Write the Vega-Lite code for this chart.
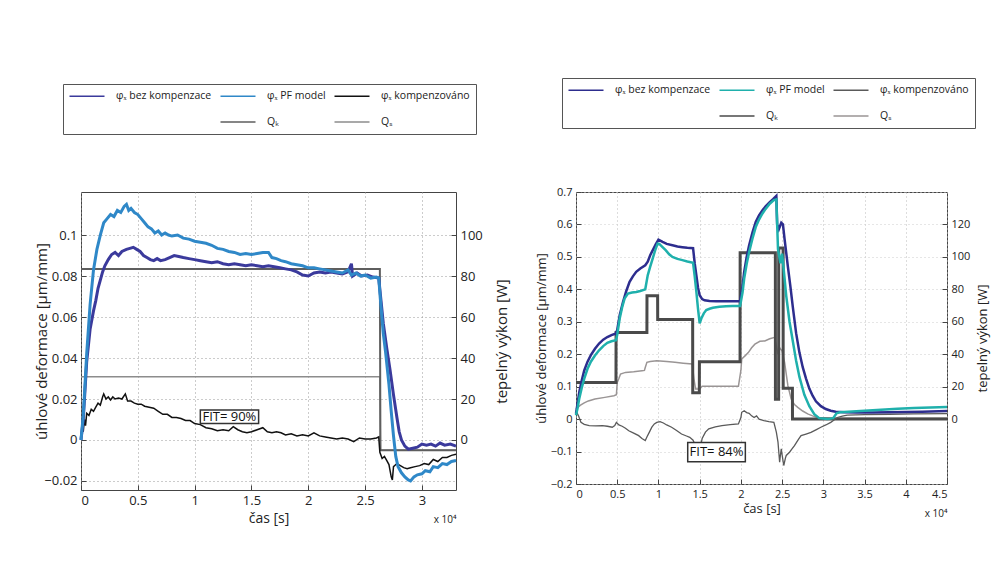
{
"$schema": "https://vega.github.io/schema/vega-lite/v6.json",
"background": "white",
"padding": {"left": 34, "top": 77, "right": 0, "bottom": 0},
"spacing": 24,
"config": {
  "font": "Open Sans",
  "view": {"stroke": "#444", "strokeWidth": 1},
  "axis": {"labelFont": "Open Sans", "labelFontSize": 11, "labelColor": "#222", "titleFont": "Open Sans", "titleFontSize": 12, "titleFontWeight": "normal", "titleColor": "#222", "domain": false, "tickSize": -5, "tickColor": "#444", "labelPadding": 9, "grid": false},
  "legend": {"labelFont": "Open Sans", "labelFontSize": 10.5, "labelColor": "#222"}
},
"datasets": {
  "lP": [{"t":0,"v":0},{"t":0.02,"v":0.012},{"t":0.05,"v":0.042},{"t":0.08,"v":0.066},{"t":0.11,"v":0.083},{"t":0.14,"v":0.093},{"t":0.17,"v":0.1},{"t":0.2,"v":0.106},{"t":0.23,"v":0.108},{"t":0.26,"v":0.11},{"t":0.29,"v":0.109},{"t":0.32,"v":0.112},{"t":0.35,"v":0.111},{"t":0.38,"v":0.114},{"t":0.4,"v":0.115},{"t":0.42,"v":0.112},{"t":0.44,"v":0.113},{"t":0.47,"v":0.111},{"t":0.5,"v":0.11},{"t":0.53,"v":0.108},{"t":0.56,"v":0.106},{"t":0.59,"v":0.104},{"t":0.62,"v":0.103},{"t":0.65,"v":0.101},{"t":0.68,"v":0.102},{"t":0.71,"v":0.1},{"t":0.74,"v":0.101},{"t":0.77,"v":0.1},{"t":0.8,"v":0.0995},{"t":0.85,"v":0.1},{"t":0.9,"v":0.0985},{"t":0.95,"v":0.098},{"t":1.0,"v":0.097},{"t":1.05,"v":0.0965},{"t":1.1,"v":0.096},{"t":1.15,"v":0.095},{"t":1.2,"v":0.0935},{"t":1.25,"v":0.093},{"t":1.3,"v":0.092},{"t":1.35,"v":0.0915},{"t":1.4,"v":0.0905},{"t":1.45,"v":0.091},{"t":1.5,"v":0.0905},{"t":1.55,"v":0.091},{"t":1.6,"v":0.0915},{"t":1.65,"v":0.0915},{"t":1.68,"v":0.089},{"t":1.72,"v":0.0885},{"t":1.76,"v":0.0875},{"t":1.8,"v":0.087},{"t":1.85,"v":0.086},{"t":1.9,"v":0.0855},{"t":1.95,"v":0.085},{"t":2.0,"v":0.084},{"t":2.05,"v":0.084},{"t":2.1,"v":0.0835},{"t":2.15,"v":0.083},{"t":2.2,"v":0.0825},{"t":2.25,"v":0.082},{"t":2.3,"v":0.0815},{"t":2.35,"v":0.083},{"t":2.38,"v":0.0805},{"t":2.42,"v":0.0815},{"t":2.46,"v":0.08},{"t":2.5,"v":0.0805},{"t":2.55,"v":0.079},{"t":2.6,"v":0.0795},{"t":2.62,"v":0.079},{"t":2.64,"v":0.065},{"t":2.66,"v":0.052},{"t":2.68,"v":0.043},{"t":2.71,"v":0.027},{"t":2.73,"v":0.014},{"t":2.75,"v":0.002},{"t":2.77,"v":-0.008},{"t":2.79,"v":-0.013},{"t":2.82,"v":-0.016},{"t":2.85,"v":-0.018},{"t":2.88,"v":-0.0195},{"t":2.9,"v":-0.02},{"t":2.93,"v":-0.018},{"t":2.96,"v":-0.017},{"t":3.0,"v":-0.0165},{"t":3.03,"v":-0.015},{"t":3.07,"v":-0.0155},{"t":3.1,"v":-0.013},{"t":3.14,"v":-0.0135},{"t":3.18,"v":-0.0115},{"t":3.22,"v":-0.012},{"t":3.26,"v":-0.0105},{"t":3.3,"v":-0.01}],
  "lB": [{"t":0,"v":0},{"t":0.02,"v":0.01},{"t":0.05,"v":0.038},{"t":0.08,"v":0.054},{"t":0.11,"v":0.063},{"t":0.13,"v":0.068},{"t":0.15,"v":0.074},{"t":0.17,"v":0.078},{"t":0.19,"v":0.082},{"t":0.21,"v":0.085},{"t":0.24,"v":0.088},{"t":0.27,"v":0.0905},{"t":0.3,"v":0.0915},{"t":0.33,"v":0.09},{"t":0.36,"v":0.092},{"t":0.4,"v":0.093},{"t":0.43,"v":0.0935},{"t":0.46,"v":0.094},{"t":0.49,"v":0.093},{"t":0.52,"v":0.092},{"t":0.55,"v":0.09},{"t":0.58,"v":0.089},{"t":0.61,"v":0.088},{"t":0.64,"v":0.0875},{"t":0.67,"v":0.0885},{"t":0.7,"v":0.0875},{"t":0.74,"v":0.088},{"t":0.78,"v":0.089},{"t":0.82,"v":0.09},{"t":0.86,"v":0.0895},{"t":0.9,"v":0.089},{"t":0.95,"v":0.0885},{"t":1.0,"v":0.088},{"t":1.05,"v":0.0875},{"t":1.1,"v":0.087},{"t":1.15,"v":0.0865},{"t":1.2,"v":0.087},{"t":1.25,"v":0.086},{"t":1.3,"v":0.0855},{"t":1.35,"v":0.086},{"t":1.4,"v":0.0855},{"t":1.45,"v":0.085},{"t":1.5,"v":0.0855},{"t":1.55,"v":0.085},{"t":1.6,"v":0.0845},{"t":1.65,"v":0.085},{"t":1.7,"v":0.0845},{"t":1.75,"v":0.084},{"t":1.8,"v":0.0835},{"t":1.85,"v":0.083},{"t":1.9,"v":0.082},{"t":1.95,"v":0.0805},{"t":2.0,"v":0.08},{"t":2.05,"v":0.0815},{"t":2.1,"v":0.082},{"t":2.15,"v":0.0815},{"t":2.2,"v":0.082},{"t":2.25,"v":0.0815},{"t":2.3,"v":0.081},{"t":2.35,"v":0.082},{"t":2.38,"v":0.086},{"t":2.39,"v":0.08},{"t":2.43,"v":0.0815},{"t":2.47,"v":0.08},{"t":2.52,"v":0.0805},{"t":2.57,"v":0.0795},{"t":2.62,"v":0.079},{"t":2.64,"v":0.068},{"t":2.66,"v":0.057},{"t":2.69,"v":0.045},{"t":2.72,"v":0.034},{"t":2.75,"v":0.022},{"t":2.78,"v":0.011},{"t":2.8,"v":0.004},{"t":2.82,"v":0.0},{"t":2.85,"v":-0.003},{"t":2.88,"v":-0.0045},{"t":2.92,"v":-0.004},{"t":2.96,"v":-0.0035},{"t":3.0,"v":-0.002},{"t":3.04,"v":-0.0025},{"t":3.08,"v":-0.002},{"t":3.12,"v":-0.003},{"t":3.16,"v":-0.0015},{"t":3.2,"v":-0.0025},{"t":3.25,"v":-0.002},{"t":3.3,"v":-0.003}],
  "lK": [{"t":0,"v":0.001},{"t":0.01,"v":0.006},{"t":0.02,"v":0.004},{"t":0.03,"v":0.01},{"t":0.04,"v":0.007},{"t":0.05,"v":0.013},{"t":0.07,"v":0.012},{"t":0.09,"v":0.015},{"t":0.11,"v":0.014},{"t":0.13,"v":0.016},{"t":0.15,"v":0.018},{"t":0.17,"v":0.017},{"t":0.19,"v":0.021},{"t":0.2,"v":0.0225},{"t":0.22,"v":0.02},{"t":0.24,"v":0.021},{"t":0.26,"v":0.0195},{"t":0.28,"v":0.021},{"t":0.3,"v":0.02},{"t":0.33,"v":0.0205},{"t":0.36,"v":0.02},{"t":0.39,"v":0.0225},{"t":0.41,"v":0.019},{"t":0.44,"v":0.019},{"t":0.47,"v":0.018},{"t":0.5,"v":0.0175},{"t":0.53,"v":0.0175},{"t":0.56,"v":0.0165},{"t":0.6,"v":0.016},{"t":0.64,"v":0.0155},{"t":0.68,"v":0.014},{"t":0.72,"v":0.0125},{"t":0.76,"v":0.0125},{"t":0.8,"v":0.011},{"t":0.84,"v":0.011},{"t":0.88,"v":0.0105},{"t":0.92,"v":0.0095},{"t":0.96,"v":0.0095},{"t":1.0,"v":0.008},{"t":1.05,"v":0.0075},{"t":1.1,"v":0.006},{"t":1.15,"v":0.0055},{"t":1.2,"v":0.0045},{"t":1.25,"v":0.005},{"t":1.3,"v":0.0045},{"t":1.34,"v":0.0065},{"t":1.38,"v":0.005},{"t":1.42,"v":0.004},{"t":1.46,"v":0.0035},{"t":1.5,"v":0.004},{"t":1.55,"v":0.005},{"t":1.6,"v":0.006},{"t":1.64,"v":0.004},{"t":1.68,"v":0.0035},{"t":1.72,"v":0.004},{"t":1.76,"v":0.0035},{"t":1.8,"v":0.0025},{"t":1.85,"v":0.003},{"t":1.9,"v":0.002},{"t":1.95,"v":0.0025},{"t":2.0,"v":0.002},{"t":2.05,"v":0.0035},{"t":2.1,"v":0.002},{"t":2.15,"v":0.0015},{"t":2.2,"v":0.001},{"t":2.25,"v":0.0005},{"t":2.3,"v":0.001},{"t":2.35,"v":0.0005},{"t":2.4,"v":-0.0008},{"t":2.45,"v":0.001},{"t":2.5,"v":0.0005},{"t":2.55,"v":0.0005},{"t":2.6,"v":0.001},{"t":2.62,"v":0.0015},{"t":2.63,"v":-0.006},{"t":2.65,"v":-0.009},{"t":2.67,"v":-0.008},{"t":2.69,"v":-0.01},{"t":2.71,"v":-0.012},{"t":2.73,"v":-0.018},{"t":2.74,"v":-0.0195},{"t":2.75,"v":-0.013},{"t":2.78,"v":-0.0115},{"t":2.81,"v":-0.0125},{"t":2.84,"v":-0.0135},{"t":2.87,"v":-0.014},{"t":2.9,"v":-0.0135},{"t":2.94,"v":-0.013},{"t":2.98,"v":-0.0125},{"t":3.02,"v":-0.0115},{"t":3.06,"v":-0.012},{"t":3.1,"v":-0.0095},{"t":3.14,"v":-0.0105},{"t":3.18,"v":-0.0085},{"t":3.22,"v":-0.0085},{"t":3.26,"v":-0.0075},{"t":3.3,"v":-0.007}],
  "lQK": [{"t":0,"q":83.4},{"t":2.63,"q":83.4},{"t":2.635,"q":-5},{"t":3.3,"q":-5}],
  "lQS": [{"t":0,"q":30.9},{"t":2.63,"q":30.9},{"t":2.635,"q":-5},{"t":3.3,"q":-5}],
  "rB": [{"t":0,"v":0.017},{"t":0.02,"v":0.05},{"t":0.04,"v":0.084},{"t":0.07,"v":0.12},{"t":0.1,"v":0.15},{"t":0.14,"v":0.177},{"t":0.18,"v":0.197},{"t":0.23,"v":0.217},{"t":0.28,"v":0.233},{"t":0.33,"v":0.245},{"t":0.38,"v":0.253},{"t":0.43,"v":0.259},{"t":0.485,"v":0.264},{"t":0.5,"v":0.275},{"t":0.53,"v":0.32},{"t":0.57,"v":0.361},{"t":0.61,"v":0.395},{"t":0.65,"v":0.423},{"t":0.69,"v":0.44},{"t":0.73,"v":0.454},{"t":0.78,"v":0.464},{"t":0.84,"v":0.474},{"t":0.87,"v":0.485},{"t":0.9,"v":0.505},{"t":0.93,"v":0.52},{"t":0.97,"v":0.54},{"t":1.0,"v":0.553},{"t":1.05,"v":0.546},{"t":1.1,"v":0.54},{"t":1.17,"v":0.536},{"t":1.23,"v":0.532},{"t":1.29,"v":0.53},{"t":1.35,"v":0.528},{"t":1.42,"v":0.527},{"t":1.44,"v":0.48},{"t":1.46,"v":0.443},{"t":1.48,"v":0.405},{"t":1.5,"v":0.382},{"t":1.53,"v":0.37},{"t":1.56,"v":0.366},{"t":1.62,"v":0.364},{"t":1.7,"v":0.363},{"t":1.8,"v":0.363},{"t":1.9,"v":0.363},{"t":1.99,"v":0.363},{"t":2.02,"v":0.41},{"t":2.04,"v":0.454},{"t":2.07,"v":0.5},{"t":2.1,"v":0.536},{"t":2.14,"v":0.575},{"t":2.18,"v":0.608},{"t":2.22,"v":0.628},{"t":2.26,"v":0.643},{"t":2.3,"v":0.656},{"t":2.35,"v":0.669},{"t":2.39,"v":0.678},{"t":2.43,"v":0.688},{"t":2.44,"v":0.6},{"t":2.46,"v":0.585},{"t":2.49,"v":0.605},{"t":2.51,"v":0.6},{"t":2.53,"v":0.555},{"t":2.57,"v":0.47},{"t":2.6,"v":0.41},{"t":2.63,"v":0.345},{"t":2.67,"v":0.265},{"t":2.71,"v":0.205},{"t":2.75,"v":0.16},{"t":2.79,"v":0.125},{"t":2.83,"v":0.094},{"t":2.87,"v":0.072},{"t":2.91,"v":0.055},{"t":2.97,"v":0.04},{"t":3.03,"v":0.031},{"t":3.09,"v":0.026},{"t":3.15,"v":0.023},{"t":3.25,"v":0.021},{"t":3.4,"v":0.02},{"t":3.6,"v":0.02},{"t":3.8,"v":0.021},{"t":4.0,"v":0.022},{"t":4.2,"v":0.023},{"t":4.5,"v":0.025}],
  "rP": [{"t":0,"v":0.012},{"t":0.02,"v":0.035},{"t":0.04,"v":0.064},{"t":0.07,"v":0.097},{"t":0.1,"v":0.125},{"t":0.14,"v":0.155},{"t":0.18,"v":0.177},{"t":0.23,"v":0.196},{"t":0.28,"v":0.212},{"t":0.33,"v":0.225},{"t":0.38,"v":0.235},{"t":0.43,"v":0.24},{"t":0.485,"v":0.243},{"t":0.5,"v":0.26},{"t":0.53,"v":0.31},{"t":0.56,"v":0.345},{"t":0.59,"v":0.372},{"t":0.63,"v":0.387},{"t":0.68,"v":0.39},{"t":0.73,"v":0.392},{"t":0.78,"v":0.395},{"t":0.84,"v":0.4},{"t":0.87,"v":0.443},{"t":0.9,"v":0.47},{"t":0.93,"v":0.495},{"t":0.96,"v":0.52},{"t":0.99,"v":0.541},{"t":1.01,"v":0.54},{"t":1.05,"v":0.53},{"t":1.09,"v":0.52},{"t":1.13,"v":0.508},{"t":1.17,"v":0.5},{"t":1.23,"v":0.494},{"t":1.29,"v":0.49},{"t":1.35,"v":0.486},{"t":1.42,"v":0.482},{"t":1.44,"v":0.44},{"t":1.46,"v":0.392},{"t":1.48,"v":0.34},{"t":1.5,"v":0.295},{"t":1.52,"v":0.31},{"t":1.55,"v":0.326},{"t":1.58,"v":0.336},{"t":1.62,"v":0.34},{"t":1.66,"v":0.343},{"t":1.74,"v":0.346},{"t":1.82,"v":0.348},{"t":1.9,"v":0.349},{"t":1.99,"v":0.349},{"t":2.02,"v":0.39},{"t":2.04,"v":0.433},{"t":2.07,"v":0.478},{"t":2.1,"v":0.515},{"t":2.14,"v":0.556},{"t":2.18,"v":0.592},{"t":2.22,"v":0.615},{"t":2.26,"v":0.633},{"t":2.3,"v":0.648},{"t":2.35,"v":0.664},{"t":2.4,"v":0.675},{"t":2.43,"v":0.677},{"t":2.44,"v":0.6},{"t":2.45,"v":0.524},{"t":2.48,"v":0.48},{"t":2.5,"v":0.51},{"t":2.52,"v":0.46},{"t":2.55,"v":0.38},{"t":2.59,"v":0.3},{"t":2.63,"v":0.24},{"t":2.67,"v":0.18},{"t":2.71,"v":0.13},{"t":2.77,"v":0.075},{"t":2.83,"v":0.04},{"t":2.89,"v":0.015},{"t":2.95,"v":0.003},{"t":3.05,"v":0.0},{"t":3.12,"v":0.003},{"t":3.16,"v":0.018},{"t":3.2,"v":0.021},{"t":3.3,"v":0.023},{"t":3.5,"v":0.026},{"t":3.7,"v":0.029},{"t":3.9,"v":0.032},{"t":4.1,"v":0.034},{"t":4.3,"v":0.036},{"t":4.5,"v":0.037}],
  "rK": [{"t":0,"v":0.026},{"t":0.03,"v":0.01},{"t":0.06,"v":-0.01},{"t":0.1,"v":-0.016},{"t":0.16,"v":-0.02},{"t":0.24,"v":-0.021},{"t":0.32,"v":-0.02},{"t":0.38,"v":-0.022},{"t":0.44,"v":-0.025},{"t":0.47,"v":-0.02},{"t":0.49,"v":-0.01},{"t":0.52,"v":-0.018},{"t":0.56,"v":-0.022},{"t":0.6,"v":-0.028},{"t":0.64,"v":-0.036},{"t":0.7,"v":-0.043},{"t":0.76,"v":-0.051},{"t":0.8,"v":-0.06},{"t":0.84,"v":-0.066},{"t":0.86,"v":-0.055},{"t":0.89,"v":-0.04},{"t":0.92,"v":-0.025},{"t":0.95,"v":-0.015},{"t":0.98,"v":-0.01},{"t":1.02,"v":-0.008},{"t":1.06,"v":-0.012},{"t":1.1,"v":-0.018},{"t":1.16,"v":-0.025},{"t":1.22,"v":-0.035},{"t":1.28,"v":-0.046},{"t":1.34,"v":-0.052},{"t":1.38,"v":-0.056},{"t":1.42,"v":-0.065},{"t":1.45,"v":-0.082},{"t":1.49,"v":-0.097},{"t":1.51,"v":-0.085},{"t":1.53,"v":-0.06},{"t":1.57,"v":-0.04},{"t":1.61,"v":-0.03},{"t":1.69,"v":-0.024},{"t":1.77,"v":-0.02},{"t":1.87,"v":-0.017},{"t":1.97,"v":-0.015},{"t":2.0,"v":0.005},{"t":2.01,"v":0.021},{"t":2.04,"v":0.026},{"t":2.07,"v":0.02},{"t":2.1,"v":0.018},{"t":2.13,"v":0.01},{"t":2.16,"v":0.005},{"t":2.19,"v":0.01},{"t":2.22,"v":0.0},{"t":2.28,"v":-0.005},{"t":2.34,"v":-0.008},{"t":2.4,"v":-0.01},{"t":2.43,"v":-0.04},{"t":2.45,"v":-0.071},{"t":2.47,"v":-0.133},{"t":2.48,"v":-0.11},{"t":2.49,"v":-0.092},{"t":2.5,"v":-0.11},{"t":2.52,"v":-0.143},{"t":2.54,"v":-0.12},{"t":2.55,"v":-0.112},{"t":2.59,"v":-0.102},{"t":2.62,"v":-0.092},{"t":2.65,"v":-0.082},{"t":2.7,"v":-0.062},{"t":2.73,"v":-0.051},{"t":2.79,"v":-0.046},{"t":2.85,"v":-0.041},{"t":2.91,"v":-0.033},{"t":2.97,"v":-0.025},{"t":3.03,"v":-0.018},{"t":3.09,"v":-0.01},{"t":3.13,"v":-0.003},{"t":3.17,"v":0.005},{"t":3.23,"v":0.009},{"t":3.29,"v":0.012},{"t":3.5,"v":0.014},{"t":3.8,"v":0.015},{"t":4.1,"v":0.016},{"t":4.5,"v":0.017}],
  "rQK": [{"t":0,"q":22.6},{"t":0.485,"q":22.6},{"t":0.486,"q":53.4},{"t":0.86,"q":53.4},{"t":0.861,"q":76},{"t":0.99,"q":76},{"t":0.991,"q":61.4},{"t":1.415,"q":61.4},{"t":1.416,"q":16.2},{"t":1.496,"q":16.2},{"t":1.497,"q":35.3},{"t":1.99,"q":35.3},{"t":1.991,"q":102.5},{"t":2.418,"q":102.5},{"t":2.419,"q":12.3},{"t":2.458,"q":12.3},{"t":2.459,"q":105.5},{"t":2.512,"q":105.5},{"t":2.513,"q":19},{"t":2.625,"q":19},{"t":2.626,"q":0},{"t":4.5,"q":0}],
  "rQS": [{"t":0,"q":6.2},{"t":0.05,"q":8.5},{"t":0.1,"q":10},{"t":0.15,"q":11.2},{"t":0.23,"q":12.4},{"t":0.35,"q":13.4},{"t":0.46,"q":14.4},{"t":0.49,"q":15},{"t":0.5,"q":22.6},{"t":0.52,"q":25},{"t":0.54,"q":27.8},{"t":0.6,"q":28.8},{"t":0.7,"q":29.2},{"t":0.8,"q":29.8},{"t":0.83,"q":30},{"t":0.84,"q":31.8},{"t":0.86,"q":35},{"t":0.9,"q":35.5},{"t":0.98,"q":36},{"t":1.1,"q":35.5},{"t":1.2,"q":35},{"t":1.3,"q":34.5},{"t":1.41,"q":34},{"t":1.43,"q":25},{"t":1.45,"q":18.6},{"t":1.5,"q":18.6},{"t":1.53,"q":20.2},{"t":1.7,"q":20.2},{"t":1.97,"q":20.2},{"t":2.0,"q":30},{"t":2.01,"q":37},{"t":2.05,"q":39},{"t":2.09,"q":41},{"t":2.13,"q":44},{"t":2.17,"q":46.2},{"t":2.23,"q":48},{"t":2.29,"q":48.2},{"t":2.35,"q":49.5},{"t":2.41,"q":50.4},{"t":2.43,"q":45},{"t":2.45,"q":40},{"t":2.47,"q":44},{"t":2.5,"q":42},{"t":2.53,"q":35},{"t":2.57,"q":20.6},{"t":2.61,"q":12.4},{"t":2.65,"q":9},{"t":2.69,"q":7.2},{"t":2.75,"q":5},{"t":2.81,"q":3.2},{"t":2.87,"q":2},{"t":2.93,"q":1},{"t":3.0,"q":0.8},{"t":3.1,"q":0.6},{"t":3.3,"q":0.5},{"t":4.5,"q":0.5}]
},
"hconcat": [
 {
  "width": 375, "height": 298,
  "layer": [
   {
    "encoding": {
      "x": {"field": "t", "type": "quantitative", "scale": {"domain": [0, 3.3], "nice": false, "zero": false},
            "axis": {"orient": "bottom", "title": "x 10⁴", "labels": false, "ticks": false, "grid": false, "titleAnchor": "end", "titleAlign": "right", "titleFontSize": 10, "titlePadding": 24}},
      "y": {"field": "q", "type": "quantitative", "scale": {"domain": [-24.4, 121], "nice": false, "zero": false},
            "axis": {"orient": "right", "title": "tepelný výkon [W]", "values": [0, 20, 40, 60, 80, 100], "format": "d", "labelFontSize": 13, "titleFontSize": 15, "titleAngle": 270, "titlePadding": 27}},
      "color": {"type": "nominal",
        "scale": {"domain": ["φₓ bez kompenzace", "φₓ PF model", "φₓ kompenzováno", "\u00a0\u00a0\u00a0\u00a0\u00a0\u00a0\u00a0\u00a0\u00a0\u00a0\u00a0\u00a0\u00a0\u00a0\u00a0\u00a0\u00a0\u00a0\u00a0\u00a0\u00a0\u00a0\u00a0\u00a0\u00a0\u00a0", "Qₖ", "Qₛ"],
                  "range": ["#3b3a9c", "#2f88c8", "#111111", "transparent", "#5e5e5e", "#8c8c8c"]},
        "legend": {"title": null, "orient": "none", "legendX": -18, "legendY": -108, "direction": "horizontal", "columns": 3, "symbolType": "M-3.5,0H3.5", "symbolSize": 100, "symbolOffset": 12, "symbolStrokeWidth": 1.6, "labelOffset": 23, "columnPadding": 5, "rowPadding": 14, "padding": 6, "strokeColor": "#555"}}
    },
    "layer": [
      {"data": {"name": "lQS"}, "mark": {"type": "line", "strokeWidth": 1.5}, "encoding": {"color": {"datum": "Qₛ"}}},
      {"data": {"name": "lQK"}, "mark": {"type": "line", "strokeWidth": 2}, "encoding": {"color": {"datum": "Qₖ"}}}
    ]
   },
   {
    "encoding": {
      "x": {"field": "t", "type": "quantitative", "title": "čas [s]", "scale": {"domain": [0, 3.3], "nice": false, "zero": false},
            "axis": {"orient": "bottom", "values": [0, 0.5, 1, 1.5, 2, 2.5, 3], "format": "~g", "grid": true, "gridColor": "#999", "gridDash": [1, 3], "labelFontSize": 13, "titleFontSize": 14, "titlePadding": 4}},
      "y": {"field": "v", "type": "quantitative", "title": "úhlové deformace [µm/mm]", "scale": {"domain": [-0.0244, 0.121], "nice": false, "zero": false},
            "axis": {"orient": "left", "values": [-0.02, 0, 0.02, 0.04, 0.06, 0.08, 0.1], "format": "~g", "grid": true, "gridColor": "#999", "gridDash": [1, 3], "labelFontSize": 13, "titleFontSize": 15, "titlePadding": -6}}
    },
    "layer": [
      {"data": {"name": "lK"}, "mark": {"type": "line", "strokeWidth": 1.5}, "encoding": {"color": {"datum": "φₓ kompenzováno", "type": "nominal"}}},
      {"data": {"name": "lB"}, "mark": {"type": "line", "strokeWidth": 3}, "encoding": {"color": {"datum": "φₓ bez kompenzace", "type": "nominal"}}},
      {"data": {"name": "lP"}, "mark": {"type": "line", "strokeWidth": 3}, "encoding": {"color": {"datum": "φₓ PF model", "type": "nominal"}}},
      {"data": {"values": [{"t": 1.05, "t2": 1.563, "v": 0.0146, "v2": 0.0081}]}, "mark": {"type": "rect", "fill": "white", "stroke": "#333", "strokeWidth": 1.5}, "encoding": {"x2": {"field": "t2"}, "y2": {"field": "v2"}}},
      {"data": {"values": [{"t": 1.306, "v": 0.0114, "label": "FIT= 90%"}]}, "mark": {"type": "text", "fontSize": 13, "color": "#111", "align": "center", "baseline": "middle", "font": "Open Sans"}, "encoding": {"text": {"field": "label"}}}
    ]
   }
  ],
  "resolve": {"scale": {"y": "independent"}, "axis": {"x": "independent"}}
 },
 {
  "width": 371, "height": 292,
  "layer": [
   {
    "encoding": {
      "x": {"field": "t", "type": "quantitative", "scale": {"domain": [0, 4.5], "nice": false, "zero": false},
            "axis": {"orient": "bottom", "title": "x 10⁴", "labels": false, "ticks": false, "grid": false, "titleAnchor": "end", "titleAlign": "right", "titleFontSize": 10, "titlePadding": 24}},
      "y": {"field": "q", "type": "quantitative", "scale": {"domain": [-40, 140], "nice": false, "zero": false},
            "axis": {"orient": "right", "title": "tepelný výkon [W]", "values": [0, 20, 40, 60, 80, 100, 120], "format": "d", "titleFontSize": 13, "titleAngle": 270, "titlePadding": 20}},
      "color": {"type": "nominal",
        "scale": {"domain": ["φₓ bez kompenzace", "φₓ PF model", "φₓ kompenzováno", "\u00a0\u00a0\u00a0\u00a0\u00a0\u00a0\u00a0\u00a0\u00a0\u00a0\u00a0\u00a0\u00a0\u00a0\u00a0\u00a0\u00a0\u00a0\u00a0\u00a0\u00a0\u00a0\u00a0\u00a0\u00a0\u00a0", "Qₖ", "Qₛ"],
                  "range": ["#2d2d8e", "#1fb0ac", "#5a5a5a", "transparent", "#4a4a4a", "#9a9595"]},
        "legend": {"title": null, "orient": "none", "legendX": -14, "legendY": -114, "direction": "horizontal", "columns": 3, "symbolType": "M-3.5,0H3.5", "symbolSize": 100, "symbolOffset": 12, "symbolStrokeWidth": 1.6, "labelOffset": 23, "columnPadding": 5, "rowPadding": 14, "padding": 6, "strokeColor": "#555"}}
    },
    "layer": [
      {"data": {"name": "rQS"}, "mark": {"type": "line", "strokeWidth": 1.5}, "encoding": {"color": {"datum": "Qₛ"}}},
      {"data": {"name": "rQK"}, "mark": {"type": "line", "strokeWidth": 3}, "encoding": {"color": {"datum": "Qₖ"}}}
    ]
   },
   {
    "encoding": {
      "x": {"field": "t", "type": "quantitative", "title": "čas [s]", "scale": {"domain": [0, 4.5], "nice": false, "zero": false},
            "axis": {"orient": "bottom", "values": [0, 0.5, 1, 1.5, 2, 2.5, 3, 3.5, 4, 4.5], "format": "~g", "grid": true, "gridColor": "#bbb", "gridDash": [1, 3], "titleFontSize": 13, "titlePadding": 3}},
      "y": {"field": "v", "type": "quantitative", "title": "úhlové deformace [µm/mm]", "scale": {"domain": [-0.2, 0.7], "nice": false, "zero": false},
            "axis": {"orient": "left", "values": [-0.2, -0.1, 0, 0.1, 0.2, 0.3, 0.4, 0.5, 0.6, 0.7], "format": "~g", "grid": true, "gridColor": "#ccc", "gridDash": [1, 3], "titleFontSize": 13, "titlePadding": 2}}
    },
    "layer": [
      {"data": {"name": "rK"}, "mark": {"type": "line", "strokeWidth": 1.3}, "encoding": {"color": {"datum": "φₓ kompenzováno", "type": "nominal"}}},
      {"data": {"name": "rB"}, "mark": {"type": "line", "strokeWidth": 2.5}, "encoding": {"color": {"datum": "φₓ bez kompenzace", "type": "nominal"}}},
      {"data": {"name": "rP"}, "mark": {"type": "line", "strokeWidth": 2.5}, "encoding": {"color": {"datum": "φₓ PF model", "type": "nominal"}}},
      {"data": {"values": [{"t": 1.355, "t2": 2.054, "v": -0.0718, "v2": -0.1314}]}, "mark": {"type": "rect", "fill": "white", "stroke": "#333", "strokeWidth": 1.5}, "encoding": {"x2": {"field": "t2"}, "y2": {"field": "v2"}}},
      {"data": {"values": [{"t": 1.705, "v": -0.1016, "label": "FIT= 84%"}]}, "mark": {"type": "text", "fontSize": 13, "color": "#111", "align": "center", "baseline": "middle", "font": "Open Sans"}, "encoding": {"text": {"field": "label"}}}
    ]
   }
  ],
  "resolve": {"scale": {"y": "independent"}, "axis": {"x": "independent"}}
 }
],
"resolve": {"scale": {"color": "independent"}}
}
